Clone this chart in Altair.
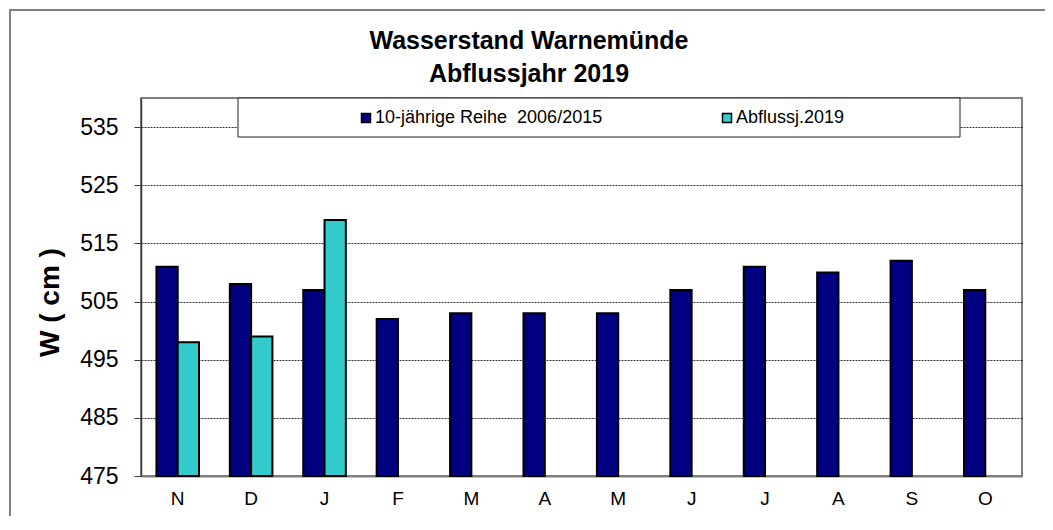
import altair as alt
import pandas as pd

# ---- data ----
months = ["Nov", "Dez", "Jan", "Feb", "Mär", "Apr", "Mai", "Jun", "Jul", "Aug", "Sep", "Okt"]
month_labels = ["N", "D", "J", "F", "M", "A", "M", "J", "J", "A", "S", "O"]
series = ["10-jährige Reihe\u00a0 2006/2015", "Abflussj.2019"]
reihe_values = [511, 508, 507, 502, 503, 503, 503, 507, 511, 510, 512, 507]
abfluss_values = [498, 499, 519, None, None, None, None, None, None, None, None, None]
y_ticks = [475, 485, 495, 505, 515, 525, 535]
colors = ["#000080", "#33CCCC"]
title_lines = ["Wasserstand Warnemünde", "Abflussjahr 2019"]

rows = []
for m, v in zip(months, reihe_values):
    rows.append({"Monat": m, "Reihe": series[0], "W": v})
for m, v in zip(months, abfluss_values):
    if v is not None:
        rows.append({"Monat": m, "Reihe": series[1], "W": v})
df = pd.DataFrame(rows)

label_map = "{" + ",".join(f"'{m}':'{l}'" for m, l in zip(months, month_labels)) + "}"

FONT = "Liberation Sans"
W, H = 881, 378

bars = alt.Chart(df).mark_bar(stroke="black", strokeWidth=2).encode(
    x=alt.X(
        "Monat:N",
        sort=months,
        scale=alt.Scale(paddingInner=0.42, paddingOuter=0.21),
        axis=alt.Axis(
            title=None,
            labelExpr=label_map + "[datum.label]",
            labelAngle=0,
            labelFontSize=19,
            labelFont=FONT,
            labelColor="black",
            labelPadding=13,
            ticks=False,
            tickSize=0,
            domainColor="#808080",
            domainWidth=2,
            grid=False,
        ),
    ),
    xOffset=alt.XOffset("Reihe:N", scale=alt.Scale(domain=series, paddingInner=0, paddingOuter=0)),
    y=alt.Y(
        "W:Q",
        scale=alt.Scale(domain=[475, 540], nice=False, zero=False),
        axis=alt.Axis(
            title="W ( cm )",
            values=y_ticks,
            labelFontSize=23,
            labelFont=FONT,
            labelColor="black",
            labelPadding=16,
            tickSize=7,
            tickColor="#404040",
            tickWidth=1,
            domainColor="#404040",
            domainWidth=1.5,
            grid=True,
            gridColor="#000000",
            gridDash=[2, 1],
            gridWidth=0.8,
            titleFont=FONT,
            titleFontSize=28,
            titleFontWeight="bold",
            titleColor="black",
            titleX=-77,
            titleY=204,
            titleAngle=270,
        ),
    ),
    y2=alt.datum(475),
    color=alt.Color(
        "Reihe:N",
        scale=alt.Scale(domain=series, range=colors),
        legend=alt.Legend(
            title=None,
            orient="none",
            legendX=216,
            legendY=11,
            direction="horizontal",
            symbolType="square",
            symbolSize=81,
            symbolStrokeColor="black",
            symbolStrokeWidth=1.5,
            labelFont=FONT,
            labelFontSize=18,
            labelColor="black",
            labelOffset=0,
            labelLimit=600,
            columnPadding=115,
            padding=0,
        ),
    ),
)

one = pd.DataFrame({"k": [0]})

outer_frame = alt.Chart(one).mark_rect(fill=None, stroke="#808080", strokeWidth=2, clip=False).encode(
    x=alt.value(-131), x2=alt.value(W + 60), y=alt.value(-88), y2=alt.value(H + 80)
)

legend_box = alt.Chart(one).mark_rect(fill="white", stroke="#222222", strokeWidth=1).encode(
    x=alt.value(97), x2=alt.value(819), y=alt.value(0), y2=alt.value(39)
)

title = alt.Chart(one).mark_text(
    text=title_lines,
    font=FONT,
    fontSize=25,
    fontWeight="bold",
    color="black",
    align="center",
    baseline="alphabetic",
    lineHeight=33,
).encode(x=alt.value(388), y=alt.value(-49))

chart = alt.layer(outer_frame, legend_box, title, bars).properties(
    width=W,
    height=H,
    autosize=alt.AutoSizeParams(type="none"),
    padding={"left": 133, "top": 90, "right": 23, "bottom": 40},
    background="white",
).configure_view(stroke="#808080", strokeWidth=2)

chart.save("out.html", embed_options={"renderer": "svg", "actions": False})
